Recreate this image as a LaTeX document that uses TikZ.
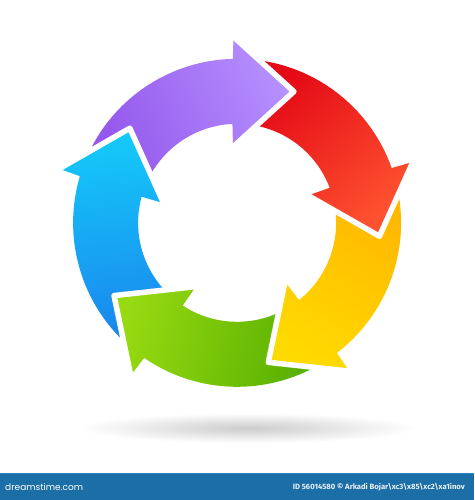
\documentclass[tikz,border=0pt]{standalone}
\usepackage{fontspec}
\newfontfamily\logofont{Poppins}
\newfontfamily\idfont{Fira Sans}
\definecolor{blueL}{HTML}{14CBF9}
\definecolor{blueD}{HTML}{1A86EE}
\definecolor{purpL}{HTML}{B690FF}
\definecolor{purpD}{HTML}{9458EC}
\definecolor{redL}{HTML}{FF5330}
\definecolor{redD}{HTML}{E40A16}
\definecolor{yelL}{HTML}{FFDA00}
\definecolor{yelD}{HTML}{FFB800}
\definecolor{grnL}{HTML}{98DA12}
\definecolor{grnD}{HTML}{58B000}
\definecolor{barblue}{HTML}{1B6EA6}
\definecolor{barline}{HTML}{2F86C4}
\tikzset{
  gapline/.style={draw=white, line width=5.5pt, line join=round, line cap=round},
  bartext/.style={inner sep=0pt, text=white}
}
% #1 = tip angle, #2 = light (head) colour, #3 = dark (tail) colour
\newcommand\cyclearrow[3]{%
  \path[top color=#2, bottom color=#3, shading angle={#1-133}]
    (#1:143pt) -- ({#1+26.5}:76pt) -- ({#1+26.1}:99pt)
    arc[start angle={#1+26.1}, end angle={#1+84.19}, radius=99pt]
    -- ({#1+72}:143pt) -- ({#1+87.57}:164pt)
    arc[start angle={#1+87.57}, end angle={#1+24.9}, radius=164pt]
    -- ({#1+24.5}:186pt) -- cycle;}
\newcommand\cyclegap[1]{%
  \draw[gapline] ({#1+24.5}:186pt) -- (#1:143pt) -- ({#1+26.5}:76pt);}
\begin{document}
\begin{tikzpicture}
\useasboundingbox (-237.1pt,-277.2pt) rectangle (236.9pt,222.8pt);
% soft shadow
\shade[inner color=black!20, outer color=white] (10.9pt,-205.2pt) ellipse [x radius=168pt, y radius=15pt];
% arrows
\cyclearrow{66.6}{purpL}{purpD}
\cyclearrow{-5.4}{redL}{redD}
\cyclearrow{-77.4}{yelL}{yelD}
\cyclearrow{-149.4}{grnL}{grnD}
\cyclearrow{-221.4}{blueL}{blueD}
% white gaps between heads and tails
\cyclegap{66.6}
\cyclegap{-5.4}
\cyclegap{-77.4}
\cyclegap{-149.4}
\cyclegap{-221.4}
% bottom bar
\fill[barblue] (-237.1pt,-277.2pt) rectangle (236.9pt,-250.2pt);
\draw[barline, line width=1pt] (-237.1pt,-250.7pt) -- (236.9pt,-250.7pt);
\node[bartext, anchor=west] (logo) at (-232.1pt,-264.2pt)
  {\resizebox{78pt}{!}{\logofont dreamstime.com}};
\node[bartext, anchor=east, text=white!90!barblue] (credit) at (227.9pt,-264.2pt)
  {\resizebox{172pt}{!}{\idfont\bfseries ID 56014580 \textcopyright{} Arkadi Bojar\textbackslash{}xc3\textbackslash{}x85\textbackslash{}xc2\textbackslash{}xa1inov}};
\end{tikzpicture}
\end{document}
